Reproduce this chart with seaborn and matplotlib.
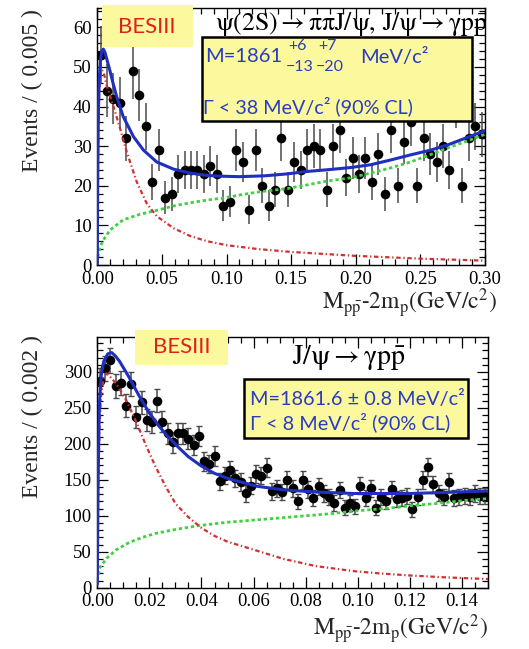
import numpy as np
import pandas as pd
import matplotlib
matplotlib.use("Agg")
import matplotlib.pyplot as plt
import seaborn as sns
from matplotlib.patches import Rectangle
from matplotlib.ticker import MultipleLocator, FormatStrFormatter

# ---------------- psi(2S) -> pi pi J/psi, J/psi -> gamma p pbar ----------------
top_bin_width = 0.005
top_counts = [53, 44, 42, 41, 32, 49, 43, 35, 21, 29,
              17, 18, 23, 24, 24, 24, 23, 25, 23, 15,
              16, 29, 26, 14, 29, 20, 15, 19, 32, 19,
              26, 24, 29, 30, 29, 19, 30, 34, 22, 27,
              23, 27, 21, 28, 18, 34, 20, 31, 36, 20,
              32, 28, 26, 30, 24, 41, 20, 32, 35, 33]

top_fit_x = [0.0, 0.0003, 0.0008, 0.0015, 0.0025, 0.0035, 0.0047, 0.006, 0.008,
             0.0098, 0.0125, 0.015, 0.02, 0.028, 0.0357, 0.046, 0.059, 0.072,
             0.085, 0.0977, 0.11, 0.129, 0.147, 0.162, 0.18, 0.196, 0.2114,
             0.2269, 0.2424, 0.2579, 0.271, 0.2863, 0.30]
top_fit_y = [0.0, 20.0, 38.0, 47.0, 52.0, 54.0, 54.5, 53.6, 51.2,
             49.0, 45.5, 42.5, 37.5, 32.4, 29.0, 26.0, 24.2, 23.2,
             22.6, 22.4, 22.3, 22.5, 23.0, 23.6, 24.1, 24.6, 25.3,
             26.5, 27.8, 29.0, 30.3, 32.2, 33.9]

top_sig_x = [0.0, 0.0003, 0.0008, 0.0015, 0.0025, 0.0035, 0.005, 0.0075, 0.0125,
             0.0176, 0.0228, 0.0305, 0.0383, 0.046, 0.059, 0.072, 0.085, 0.10,
             0.125, 0.15, 0.20, 0.25, 0.30]
top_sig_y = [0.0, 18.0, 35.0, 44.0, 48.5, 49.3, 48.5, 45.0, 40.0,
             34.5, 28.5, 21.0, 15.5, 12.3, 9.3, 7.3, 6.0, 5.0,
             4.0, 3.3, 2.3, 1.6, 1.1]

top_bkg_x = [0.0, 0.001, 0.0025, 0.0047, 0.0098, 0.02, 0.033, 0.046, 0.059, 0.072,
             0.085, 0.0977, 0.1106, 0.126, 0.147, 0.162, 0.178, 0.196, 0.2114,
             0.2269, 0.2424, 0.258, 0.2733, 0.2888, 0.30]
top_bkg_y = [0.5, 3.0, 4.8, 6.3, 8.8, 11.4, 12.8, 13.8, 14.9, 15.7,
             16.4, 16.9, 17.7, 18.5, 19.3, 20.2, 21.2, 22.0, 23.2,
             24.5, 26.0, 27.9, 29.8, 31.6, 33.0]

# ---------------- J/psi -> gamma p pbar ----------------
bot_bin_width = 0.002
bot_counts = [288, 305, 316, 280, 285, 253, 283, 237, 258, 233,
              230, 260, 231, 215, 202, 215, 215, 207, 198, 211,
              176, 172, 183, 148, 156, 164, 152, 147, 131, 142,
              158, 156, 167, 134, 138, 133, 150, 138, 120, 150,
              137, 125, 141, 131, 126, 118, 136, 111, 118, 113,
              142, 125, 138, 111, 126, 120, 137, 124, 125, 127,
              109, 126, 150, 168, 144, 132, 126, 147, 125, 126,
              127, 126, 131, 127, 127]

bot_fit_x = [0.0, 0.0003, 0.0008, 0.0015, 0.0025, 0.004, 0.0055, 0.007, 0.0085,
             0.0105, 0.0123, 0.016, 0.0198, 0.0236, 0.0274, 0.0312, 0.035, 0.04,
             0.045, 0.05, 0.054, 0.0614, 0.0715, 0.084, 0.0985, 0.108, 0.12,
             0.133, 0.15]
bot_fit_y = [5, 150, 255, 295, 315, 325, 327, 322, 315,
             303, 292, 267, 244, 225, 209, 195, 182, 169,
             159, 152, 148, 141, 136, 133, 131, 131, 131,
             132.4, 134.5]

bot_sig_x = [0.0, 0.0003, 0.0008, 0.0015, 0.0025, 0.0035, 0.005, 0.0074, 0.0112,
             0.015, 0.0188, 0.0224, 0.0262, 0.03, 0.035, 0.04, 0.045, 0.05,
             0.059, 0.0715, 0.084, 0.0985, 0.108, 0.12, 0.133, 0.15]
bot_sig_y = [3, 120, 220, 270, 292, 298, 293, 283, 260,
             230, 197, 168, 141, 117, 98, 83, 72, 64,
             54, 40, 30, 23, 20, 17, 14.5, 12]

bot_bkg_x = [0.0, 0.001, 0.0036, 0.0074, 0.0123, 0.0174, 0.0224, 0.03, 0.0375,
             0.045, 0.05, 0.06, 0.07, 0.08, 0.09, 0.10, 0.11, 0.12, 0.13, 0.14, 0.15]
bot_bkg_y = [10, 28, 41, 53, 63, 70, 75.5, 81, 85.5,
             89, 91, 94, 97, 100, 103, 107, 110, 114, 117, 121, 124]

W, H = 529, 649
FIT_BLUE = "#1f2fbf"
SIG_RED = "#d03030"
BKG_GREEN = "#3fd23f"
BOX_YELLOW = "#fbf89e"
TEXT_BLUE = "#2a3cbf"
BES_RED = "#e0201a"

sns.set_theme(style="ticks")
plt.rcParams["font.family"] = ["Liberation Serif", "DejaVu Serif"]
plt.rcParams["mathtext.fontset"] = "stix"


def fx(px):
    return px / W


def fy(py):
    return 1 - py / H


def make_frame(counts, width):
    n = len(counts)
    edges = np.arange(n + 1) * width
    centers = 0.5 * (edges[:-1] + edges[1:])
    c = np.asarray(counts, dtype=float)
    return pd.DataFrame({"m": centers, "n": c, "err": np.sqrt(c)})


def draw_panel(ax, df, curves, capsize):
    ax.errorbar(df["m"], df["n"], yerr=df["err"], fmt="none", ecolor="#4a4a4a",
                elinewidth=1.1, capsize=capsize, capthick=1.0, zorder=2)
    sns.scatterplot(data=df, x="m", y="n", ax=ax, color="black", s=48,
                    linewidth=0, zorder=3, legend=False)
    for (xs, ys, color, ls, lw) in curves:
        sns.lineplot(x=xs, y=ys, ax=ax, color=color, linestyle=ls, linewidth=lw,
                     sort=False, estimator=None, zorder=4, legend=False)


def style_axes(ax, xmaj, xmin, ymaj, ymin):
    ax.xaxis.set_major_locator(MultipleLocator(xmaj))
    ax.xaxis.set_minor_locator(MultipleLocator(xmin))
    ax.yaxis.set_major_locator(MultipleLocator(ymaj))
    ax.yaxis.set_minor_locator(MultipleLocator(ymin))
    ax.xaxis.set_major_formatter(FormatStrFormatter("%.2f"))
    ax.tick_params(which="both", direction="in", top=True, right=True,
                   colors="black", width=0.9)
    ax.tick_params(which="major", length=8, labelsize=13.5, pad=4)
    ax.tick_params(which="minor", length=4)
    ax.set_facecolor("white")
    for s in ax.spines.values():
        s.set_color("black")
        s.set_linewidth(1.0)


XLABEL = r"$\mathrm{M_{p\bar{p}}}\mathrm{\text{-}2m_p(GeV/c^2)}$"

fig = plt.figure(figsize=(W / 100, H / 100), dpi=100)
fig.patch.set_facecolor("white")

# ---------- top panel ----------
ax1 = fig.add_axes([fx(97.3), fy(265), fx(485) - fx(97.3), (265 - 8.3) / H])
top_df = make_frame(top_counts, top_bin_width)
draw_panel(ax1, top_df, [
    (top_bkg_x, top_bkg_y, BKG_GREEN, (0, (1.2, 1.0)), 2.0),
    (top_sig_x, top_sig_y, SIG_RED, (0, (2.0, 1.2, 0.6, 1.2)), 1.6),
    (top_fit_x, top_fit_y, FIT_BLUE, "-", 2.2),
], capsize=0)
ax1.set_xlim(0, 0.30)
ax1.set_ylim(0, 64.8)
style_axes(ax1, 0.05, 0.01, 10, 2)
ax1.set_ylabel("Events / ( 0.005 )", fontsize=17, rotation=90)
ax1.yaxis.set_label_coords(-0.166, 0.68)
ax1.yaxis.label.set_verticalalignment("center")
ax1.set_xlabel(XLABEL, fontsize=17, ha="right")
ax1.xaxis.set_label_coords(1.031, -0.15)
ax1.xaxis.label.set_verticalalignment("center")

# ---------- bottom panel ----------
ax2 = fig.add_axes([fx(97.3), fy(587.7), fx(488) - fx(97.3), (587.7 - 336.7) / H])
bot_df = make_frame(bot_counts, bot_bin_width)
draw_panel(ax2, bot_df, [
    (bot_bkg_x, bot_bkg_y, BKG_GREEN, (0, (1.2, 1.0)), 2.0),
    (bot_sig_x, bot_sig_y, SIG_RED, (0, (2.0, 1.2, 0.6, 1.2)), 1.6),
    (bot_fit_x, bot_fit_y, FIT_BLUE, "-", 2.2),
], capsize=2.2)
ax2.set_xlim(0, 0.15)
ax2.set_ylim(0, 349)
style_axes(ax2, 0.02, 0.005, 50, 10)
ax2.set_ylabel("Events / ( 0.002 )", fontsize=17, rotation=90)
ax2.yaxis.set_label_coords(-0.165, 0.681)
ax2.yaxis.label.set_verticalalignment("center")
ax2.set_xlabel(XLABEL, fontsize=17, ha="right")
ax2.xaxis.set_label_coords(1.0, -0.165)
ax2.xaxis.label.set_verticalalignment("center")


def fig_box(x0, y0, x1, y1, edge=None, lw=0.0):
    r = Rectangle((fx(x0), fy(y1)), fx(x1) - fx(x0), fy(y0) - fy(y1),
                  transform=fig.transFigure, facecolor=BOX_YELLOW,
                  edgecolor=edge if edge else "none", linewidth=lw, zorder=10)
    fig.add_artist(r)


def fig_text(px, py, s, **kw):
    fig.text(fx(px), fy(py), s, zorder=11, **kw)


sans = ["Lato", "DejaVu Sans"]

# channel titles
fig_text(215, 24, r"$\mathrm{\psi(2S)\rightarrow\pi\pi J/\psi,\,J/\psi\rightarrow\gamma p\bar{p}}$",
         fontsize=18.5, ha="left", va="center", color="black")
fig_text(292, 358, r"$\mathrm{J/\psi\rightarrow\gamma p\bar{p}}$",
         fontsize=20, ha="left", va="center", color="black")

# experiment tags
fig_box(101.7, 5, 193.3, 46.7)
fig_text(147, 27, "BESIII", family=sans, fontsize=16, color=BES_RED,
         ha="center", va="center")
fig_box(135, 330, 228.3, 365)
fig_text(181.7, 347, "BESIII", family=sans, fontsize=16, color=BES_RED,
         ha="center", va="center")

# fit result boxes
fig_box(201.7, 37.3, 471.7, 120.7, edge="black", lw=1.8)
fig_text(205, 57, "M=1861", family=sans, fontsize=14.5, color=TEXT_BLUE,
         ha="left", va="center")
fig_text(288, 46, "+6", family=sans, fontsize=11.5, color=TEXT_BLUE, ha="left", va="center")
fig_text(318, 46, "+7", family=sans, fontsize=11.5, color=TEXT_BLUE, ha="left", va="center")
fig_text(286, 67, "\u221213", family=sans, fontsize=11.5, color=TEXT_BLUE, ha="left", va="center")
fig_text(316, 67, "\u221220", family=sans, fontsize=11.5, color=TEXT_BLUE, ha="left", va="center")
fig_text(360, 57, "MeV/c\u00b2", family=sans, fontsize=14.5, color=TEXT_BLUE,
         ha="left", va="center")
fig_text(203, 106, "\u0393 < 38 MeV/c\u00b2 (90% CL)", family=sans, fontsize=14.2,
         color=TEXT_BLUE, ha="left", va="center")

fig_box(244.3, 379.3, 468.3, 438.3, edge="black", lw=1.8)
fig_text(250, 399, "M=1861.6 \u00b1 0.8 MeV/c\u00b2", family=sans, fontsize=14.3,
         color=TEXT_BLUE, ha="left", va="center")
fig_text(250, 422, "\u0393 < 8 MeV/c\u00b2 (90% CL)", family=sans, fontsize=14.3,
         color=TEXT_BLUE, ha="left", va="center")

fig.savefig("out.png", dpi=100, facecolor="white")
